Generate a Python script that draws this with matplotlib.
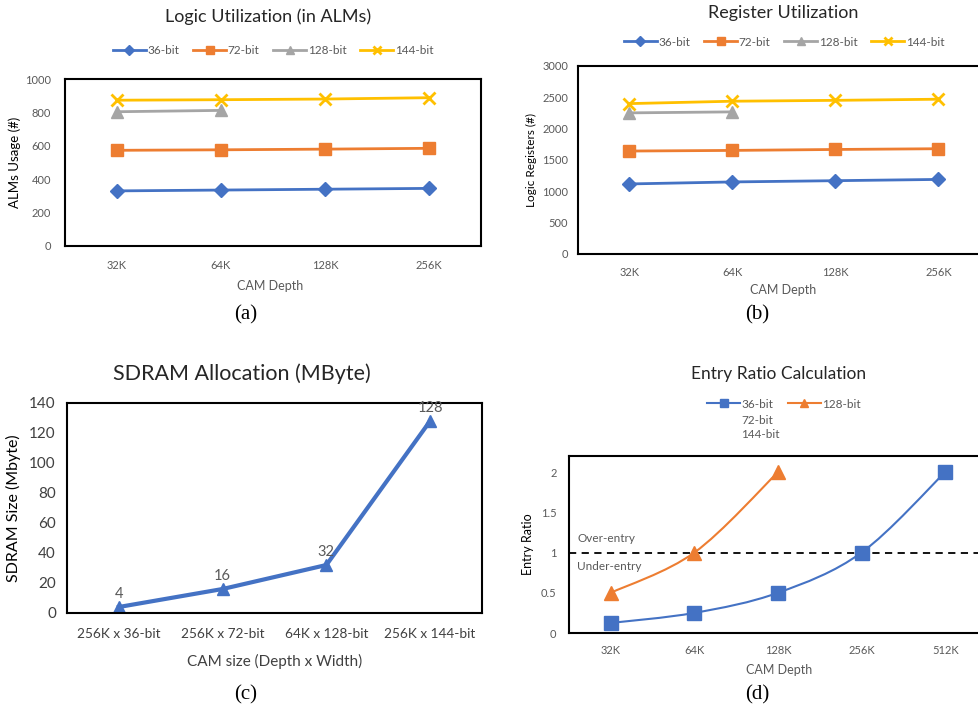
import matplotlib
matplotlib.use("Agg")
import matplotlib.pyplot as plt
from matplotlib.path import Path
from matplotlib.patches import PathPatch
from matplotlib.lines import Line2D
import numpy as np

W, H = 979, 710

# --- data -------------------------------------------------------------
depths_ab = ["32K", "64K", "128K", "256K"]
alm_36 = [330, 335, 340, 345]
alm_72 = [573, 576, 580, 585]
alm_128 = [804, 812]
alm_144 = [873, 876, 880, 888]

reg_36 = [1118, 1150, 1170, 1190]
reg_72 = [1643, 1653, 1668, 1680]
reg_128 = [2252, 2268]
reg_144 = [2400, 2438, 2452, 2470]

cam_sizes = ["256K x 36-bit", "256K x 72-bit", "64K x 128-bit", "256K x 144-bit"]
sdram_mb = [4, 16, 32, 128]

depths_d = ["32K", "64K", "128K", "256K", "512K"]
ratio_36 = [0.125, 0.25, 0.5, 1, 2]
ratio_128 = [0.5, 1, 2]

BLUE = "#4472C4"
ORANGE = "#ED7D31"
GRAY = "#A5A5A5"
YELLOW = "#FFC000"
TXT = "#595959"

SANS = "Lato"
SERIF = "Liberation Serif"
plt.rcParams["font.family"] = [SANS, "DejaVu Sans"]

fig = plt.figure(figsize=(W / 100, H / 100), dpi=100)


def px_axes(l, t, r, b):
    return fig.add_axes([l / W, 1 - b / H, (r - l) / W, (b - t) / H])


def style(ax, tick_size, pad=8):
    for s in ax.spines.values():
        s.set_color("black")
        s.set_linewidth(1.5)
    ax.tick_params(length=0, labelsize=tick_size, labelcolor=TXT, pad=pad)


def ftext(x, y, s, **kw):
    fig.text(x / W, 1 - y / H, s, ha="center", va="center", **kw)


def smooth(ax, ys, color, lw):
    # Excel-style smoothed line as Catmull-Rom Bezier segments
    pts = np.column_stack([np.arange(len(ys)), ys]).astype(float)
    ext = np.vstack([pts[0], pts, pts[-1]])
    verts = [tuple(pts[0])]
    codes = [Path.MOVETO]
    for i in range(1, len(ext) - 2):
        p0, p1, p2, p3 = ext[i - 1], ext[i], ext[i + 1], ext[i + 2]
        verts += [tuple(p1 + (p2 - p0) / 6), tuple(p2 - (p3 - p1) / 6), tuple(p2)]
        codes += [Path.CURVE4] * 3
    ax.add_patch(PathPatch(Path(verts, codes), fill=False, edgecolor=color,
                           lw=lw, zorder=2))


def util_panel(ax, s36, s72, s128, s144):
    xa = np.arange(len(depths_ab))
    ax.plot(xa, s36, color=BLUE, marker="D", ms=7, lw=2, label="36-bit")
    ax.plot(xa, s72, color=ORANGE, marker="s", ms=9, lw=2, label="72-bit")
    ax.plot(xa[:len(s128)], s128, color=GRAY, marker="^", ms=9, lw=2, label="128-bit")
    ax.plot(xa, s144, color=YELLOW, marker="x", ms=9, mew=2, lw=2, label="144-bit")
    ax.set_xlim(-0.5, 3.5)
    ax.set_xticks(xa, depths_ab)


# --- (a) --------------------------------------------------------------
ax = px_axes(65, 79, 481, 246)
util_panel(ax, alm_36, alm_72, alm_128, alm_144)
ax.set_ylim(0, 1000)
ax.set_yticks(range(0, 1001, 200))
style(ax, 8, pad=10)
ax.set_ylabel("ALMs Usage (#)", fontsize=9.5, color="black", labelpad=3)
ax.legend(loc="center", bbox_to_anchor=(0.5, 1.0 + 28 / 167), ncol=4, frameon=False,
          fontsize=8.5, labelcolor=TXT, handlelength=2.8, handletextpad=0.1,
          columnspacing=1.2, markerscale=0.7)
ftext(268, 17, "Logic Utilization (in ALMs)", fontsize=13, color="#262626")
ftext(270, 286, "CAM Depth", fontsize=9, color=TXT)
ftext(246, 315, "(a)", fontsize=15, family=SERIF)

# --- (b) --------------------------------------------------------------
ax = px_axes(578, 66, 990, 254)
util_panel(ax, reg_36, reg_72, reg_128, reg_144)
ax.set_ylim(0, 3000)
ax.set_yticks(range(0, 3001, 500))
style(ax, 8, pad=7)
ax.tick_params(axis="x", pad=9)
ax.set_ylabel("Logic Registers (#)", fontsize=8.5, color="black", labelpad=4)
ax.legend(loc="center", bbox_to_anchor=(0.5, 1.0 + 24 / 188), ncol=4, frameon=False,
          fontsize=8.5, labelcolor=TXT, handlelength=2.8, handletextpad=0.1,
          columnspacing=1.2, markerscale=0.7)
ftext(783, 13, "Register Utilization", fontsize=13, color="#262626")
ftext(783, 290, "CAM Depth", fontsize=9, color=TXT)
ftext(757, 315, "(b)", fontsize=15, family=SERIF)

# --- (c) --------------------------------------------------------------
ax = px_axes(67, 403, 482, 613)
xc = np.arange(len(cam_sizes))
ax.plot(xc, sdram_mb, color=BLUE, marker="^", ms=9, lw=3)
for x, v in zip(xc, sdram_mb):
    ax.annotate(str(v), (x, v), xytext=(0, 4), textcoords="offset points",
                ha="center", va="bottom", fontsize=10.5, color=TXT)
ax.set_xlim(-0.5, 3.5)
ax.set_ylim(0, 140)
ax.set_yticks(range(0, 141, 20))
ax.set_xticks(xc, cam_sizes)
style(ax, 11, pad=8)
ax.tick_params(axis="x", labelsize=9.8, pad=11)
ax.tick_params(labelcolor="#404040")
ax.set_ylabel("SDRAM Size (Mbyte)", fontsize=11.5, color="black", labelpad=6)
ftext(242, 374, "SDRAM Allocation (MByte)", fontsize=15.5, color="#262626")
ftext(275, 661, "CAM size (Depth x Width)", fontsize=11, color="#404040")
ftext(246, 695, "(c)", fontsize=15, family=SERIF)

# --- (d) --------------------------------------------------------------
ax = px_axes(569, 456, 987, 633)
xd = np.arange(len(depths_d))
smooth(ax, ratio_36, BLUE, 1.5)
smooth(ax, ratio_128, ORANGE, 1.5)
ax.plot(xd, ratio_36, ls="none", color=BLUE, marker="s", ms=9.5, zorder=3)
ax.plot(xd[:len(ratio_128)], ratio_128, ls="none", color=ORANGE, marker="^", ms=9.5, zorder=3)
ax.axhline(1, color="black", ls=(0, (4, 3)), lw=1.3, zorder=1)
ax.set_xlim(-0.5, 4.5)
ax.set_ylim(0, 2.2)
ax.set_yticks([0, 0.5, 1, 1.5, 2], ["0", "0.5", "1", "1.5", "2"])
ax.set_xticks(xd, depths_d)
style(ax, 8, pad=9)
ax.tick_params(axis="y", pad=9)
ax.set_ylabel("Entry Ratio", fontsize=9, color="black", labelpad=5)
ax.text(0.02, 1.17, "Over-entry", transform=ax.get_yaxis_transform(), fontsize=8.5,
        color=TXT, ha="left", va="center")
ax.text(0.02, 0.83, "Under-entry", transform=ax.get_yaxis_transform(), fontsize=8.5,
        color=TXT, ha="left", va="center")
handles = [Line2D([], [], color=BLUE, marker="s", ms=6, lw=1.5),
           Line2D([], [], color=ORANGE, marker="^", ms=6, lw=1.5)]
ax.legend(handles, ["36-bit", "128-bit"], loc="center",
          bbox_to_anchor=((784 - 569) / 418, 1 + (456 - 404) / 177), ncol=2,
          frameon=False, fontsize=8.5, labelcolor=TXT, handlelength=2.8,
          handletextpad=0.1, columnspacing=1.2)
fig.text(741 / W, 1 - 420 / H, "72-bit", fontsize=8.5, color=TXT, ha="left", va="center")
fig.text(741 / W, 1 - 435 / H, "144-bit", fontsize=8.5, color=TXT, ha="left", va="center")
ftext(779, 374, "Entry Ratio Calculation", fontsize=12.5, color="#262626")
ftext(779, 670, "CAM Depth", fontsize=9, color=TXT)
ftext(757, 695, "(d)", fontsize=15, family=SERIF)

fig.savefig("out.png", dpi=100)
